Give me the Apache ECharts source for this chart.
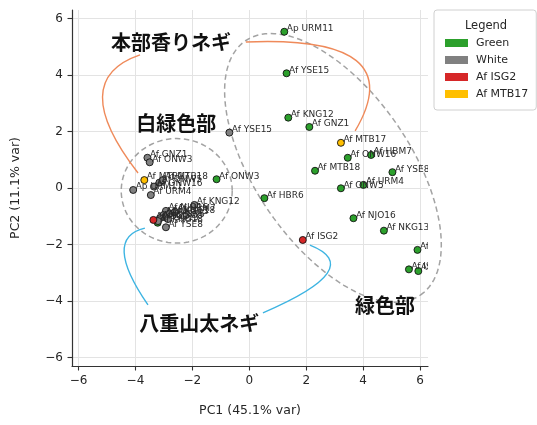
<!DOCTYPE html>
<html>
<head>
<meta charset="utf-8">
<script src="https://cdn.jsdelivr.net/npm/echarts@6/dist/echarts.min.js"></script>
<style>
  html, body { margin: 0; padding: 0; background: #fff; }
  #chart { width: 537px; height: 425px; }
</style>
</head>
<body>
<div id="chart"></div>
<script>
// PCA scores: green part and white part of each sample
const greenNames = ['Ap URM11', 'Af YSE15', 'Af KNG12', 'Af GNZ1', 'Af MTB17', 'Af ONW16', 'Af HBM7',
  'Af MTB18', 'Af YSE8', 'Af ONW5', 'Af URM4', 'Af HBR6', 'Af NJO16', 'Af NKG13', 'Af ISG2',
  'Af ISG7', 'Af ISG9', 'Af ISG13', 'Af ONW3', 'Af KNG18'];
const greenPC1 = [1.23, 1.31, 1.37, 2.11, 3.22, 3.46, 4.28, 2.31, 5.03, 3.22, 4.01, 0.53, 3.66, 4.73, 1.88,
  5.91, 5.61, 5.94, -1.15, -3.22];
const greenPC2 = [5.53, 4.06, 2.49, 2.16, 1.60, 1.07, 1.17, 0.61, 0.56, -0.01, 0.11, -0.36, -1.07, -1.51, -1.84,
  -2.19, -2.88, -2.94, 0.31, -1.23];

const whiteNames = ['Af GNZ1', 'Af ONW3', 'Af MTB17', 'Ap URM11', 'Af ONW16', 'Af ONW5', 'Af MTB18',
  'Af URM4', 'Af KNG12', 'Af YSE15', 'Af ISG2', 'Af NJO16', 'Af KNG18', 'Af HBM7', 'Af NKG13',
  'Af HBR6', 'Af ISG7', 'Af ISG9', 'Af ISG13', 'Af YSE8'];
const whitePC1 = [-3.58, -3.50, -3.69, -4.08, -3.35, -3.16, -3.04, -3.46, -1.93, -0.70, -3.37, -2.93, -2.79,
  -2.61, -3.02, -2.95, -3.14, -2.86, -3.21, -2.93];
const whitePC2 = [1.07, 0.91, 0.28, -0.07, 0.05, 0.19, 0.28, -0.25, -0.60, 1.96, -1.13, -0.81, -0.90,
  -0.84, -0.96, -1.04, -1.07, -1.10, -1.17, -1.39];

// highlighted samples get their own colour in both groups
const highlight = ['Af ISG2', 'Af MTB17'];

const xTicks = [-6, -4, -2, 0, 2, 4, 6];
const yTicks = [-6, -4, -2, 0, 2, 4, 6];
const xRange = [-6.23, 6.28];
const yRange = [-6.3, 6.3];

// dashed group outlines: [centerX, centerY, width, height, angleDeg]
const ellipses = [
  [-2.55, -0.1, 3.9, 3.7, 0],
  [2.94, 0.71, 10.9, 5.45, -55.7]
];

// callout curves (quadratic): [startX, startY, ctrlX, ctrlY, endX, endY, colourIndex]
const callouts = [
  [-3.84, 4.71, -6.44, 3.82, -3.91, 0.53, 0],
  [-0.12, 5.17, 5.72, 5.42, 3.72, 2.02, 0],
  [-3.56, -4.14, -5.18, -1.77, -3.67, -1.42, 1],
  [0.48, -4.42, 4.17, -2.83, 2.13, -2.02, 1]
];
const calloutColours = ['#ef8a5a', '#3db4e2'];

// group captions
const captionText = ['本部香りネギ', '白緑色部', '八重山太ネギ', '緑色部'];
const captionX = [-2.75, -2.57, -1.76, 4.77];
const captionY = [5.17, 2.30, -4.78, -4.14];

const FONT = 'DejaVu Sans';
const CJK = '"Noto Sans CJK JP", "Noto Sans CJK SC", sans-serif';
const minus = v => String(v).replace('-', '\u2212');

function pts(names, xs, ys, keep) {
  const out = [];
  names.forEach((n, i) => { if (keep(n)) out.push([xs[i], ys[i]]); });
  return out;
}
const allNames = greenNames.concat(whiteNames);
const allX = greenPC1.concat(whitePC1);
const allY = greenPC2.concat(whitePC2);

const pointStyle = c => ({ color: c, borderColor: '#111', borderWidth: 0.9, opacity: 1 });
const scatterBase = { type: 'scatter', symbolSize: 7, z: 3, emphasis: { disabled: true } };

const chart = echarts.init(document.getElementById('chart'), null, { renderer: 'canvas' });
chart.setOption({
  animation: false,
  backgroundColor: '#fff',
  grid: { left: 72, right: 109, top: 10, bottom: 59 },
  xAxis: {
    type: 'value', min: xRange[0], max: xRange[1],
    name: 'PC1 (45.1% var)', nameLocation: 'middle', nameGap: 38,
    nameTextStyle: { fontFamily: FONT, fontSize: 12.5, color: '#262626' },
    axisLine: { show: true, onZero: false, lineStyle: { color: '#333', width: 1.2 } },
    axisTick: { show: true, length: 4.5, customValues: xTicks, lineStyle: { color: '#333', width: 1.1 } },
    axisLabel: { customValues: xTicks, formatter: minus, fontFamily: FONT, fontSize: 12, color: '#262626', margin: 9 },
    splitLine: { show: true, lineStyle: { color: '#e3e3e3', width: 1 } }
  },
  yAxis: {
    type: 'value', min: yRange[0], max: yRange[1],
    name: 'PC2 (11.1% var)', nameLocation: 'middle', nameGap: 50, nameRotate: 90,
    nameTextStyle: { fontFamily: FONT, fontSize: 12.5, color: '#262626' },
    axisLine: { show: true, onZero: false, lineStyle: { color: '#333', width: 1.2 } },
    axisTick: { show: true, length: 4.5, customValues: yTicks, lineStyle: { color: '#333', width: 1.1 } },
    axisLabel: { customValues: yTicks, formatter: minus, fontFamily: FONT, fontSize: 12, color: '#262626', margin: 9 },
    splitLine: { show: true, lineStyle: { color: '#e3e3e3', width: 1 } }
  },
  legend: {
    data: ['Green', 'White', 'Af ISG2', 'Af MTB17'],
    orient: 'vertical', left: 434, top: 10,
    padding: [27, 8, 10, 11],
    icon: 'rect', itemWidth: 23, itemHeight: 8, itemGap: 5,
    itemStyle: { borderWidth: 0, opacity: 1 },
    backgroundColor: '#fff', borderColor: '#d0d0d0', borderWidth: 1, borderRadius: 3,
    textStyle: { fontFamily: FONT, fontSize: 11, color: '#262626', lineHeight: 12, padding: [0, 0, 0, 3] },
    selectedMode: false
  },
  graphic: [{
    type: 'text', x: 486, y: 26, z: 100,
    style: { text: 'Legend', fontFamily: FONT, fontSize: 11.5, fill: '#262626', align: 'center', verticalAlign: 'middle' }
  }],
  series: [
    {
      type: 'custom', name: 'outlines', z: 1, clip: false, silent: true,
      data: ellipses,
      encode: { x: 0, y: 1 },
      renderItem(params, api) {
        const cx = api.value(0), cy = api.value(1);
        const a = api.value(2) / 2, b = api.value(3) / 2;
        const ang = api.value(4) * Math.PI / 180;
        const points = [];
        for (let k = 0; k <= 120; k++) {
          const t = k / 120 * Math.PI * 2;
          const lx = a * Math.cos(t), ly = b * Math.sin(t);
          points.push(api.coord([cx + lx * Math.cos(ang) - ly * Math.sin(ang),
                                 cy + lx * Math.sin(ang) + ly * Math.cos(ang)]));
        }
        return { type: 'polyline', shape: { points },
          style: { fill: 'none', stroke: '#a3a3a3', lineWidth: 1.5, lineDash: [5.5, 3.5] } };
      }
    },
    Object.assign({}, scatterBase, {
      name: 'Green', itemStyle: pointStyle('#2ca02c'),
      data: pts(greenNames, greenPC1, greenPC2, n => !highlight.includes(n))
    }),
    Object.assign({}, scatterBase, {
      name: 'White', itemStyle: pointStyle('#808080'),
      data: pts(whiteNames, whitePC1, whitePC2, n => !highlight.includes(n))
    }),
    Object.assign({}, scatterBase, {
      name: 'Af ISG2', itemStyle: pointStyle('#d62728'),
      data: pts(allNames, allX, allY, n => n === 'Af ISG2')
    }),
    Object.assign({}, scatterBase, {
      name: 'Af MTB17', itemStyle: pointStyle('#ffbf00'),
      data: pts(allNames, allX, allY, n => n === 'Af MTB17')
    }),
    {
      type: 'custom', name: 'pointLabels', z: 4, clip: true, silent: true,
      data: allX.map((x, i) => [x, allY[i]]),
      encode: { x: 0, y: 1 },
      renderItem(params, api) {
        const p = api.coord([api.value(0), api.value(1)]);
        return { type: 'text', x: p[0] + 2.5, y: p[1] - 3,
          style: { text: allNames[params.dataIndex], fontFamily: FONT, fontSize: 9, fill: '#2a2a2a',
                   align: 'left', verticalAlign: 'middle' } };
      }
    },
    {
      type: 'custom', name: 'callouts', z: 2, clip: false, silent: true,
      data: callouts,
      encode: { x: 0, y: 1 },
      renderItem(params, api) {
        const s = api.coord([api.value(0), api.value(1)]);
        const c = api.coord([api.value(2), api.value(3)]);
        const e = api.coord([api.value(4), api.value(5)]);
        return { type: 'bezierCurve',
          shape: { x1: s[0], y1: s[1], cpx1: c[0], cpy1: c[1], x2: e[0], y2: e[1] },
          style: { fill: 'none', stroke: calloutColours[api.value(6)], lineWidth: 1.4 } };
      }
    },
    {
      type: 'custom', name: 'captions', z: 6, clip: false, silent: true,
      data: captionX.map((x, i) => [x, captionY[i]]),
      encode: { x: 0, y: 1 },
      renderItem(params, api) {
        const p = api.coord([api.value(0), api.value(1)]);
        return { type: 'text', x: p[0], y: p[1],
          style: { text: captionText[params.dataIndex], fontFamily: CJK, fontWeight: 'bold', fontSize: 20,
                   fill: '#111', align: 'center', verticalAlign: 'middle' } };
      }
    }
  ]
});
</script>
</body>
</html>
